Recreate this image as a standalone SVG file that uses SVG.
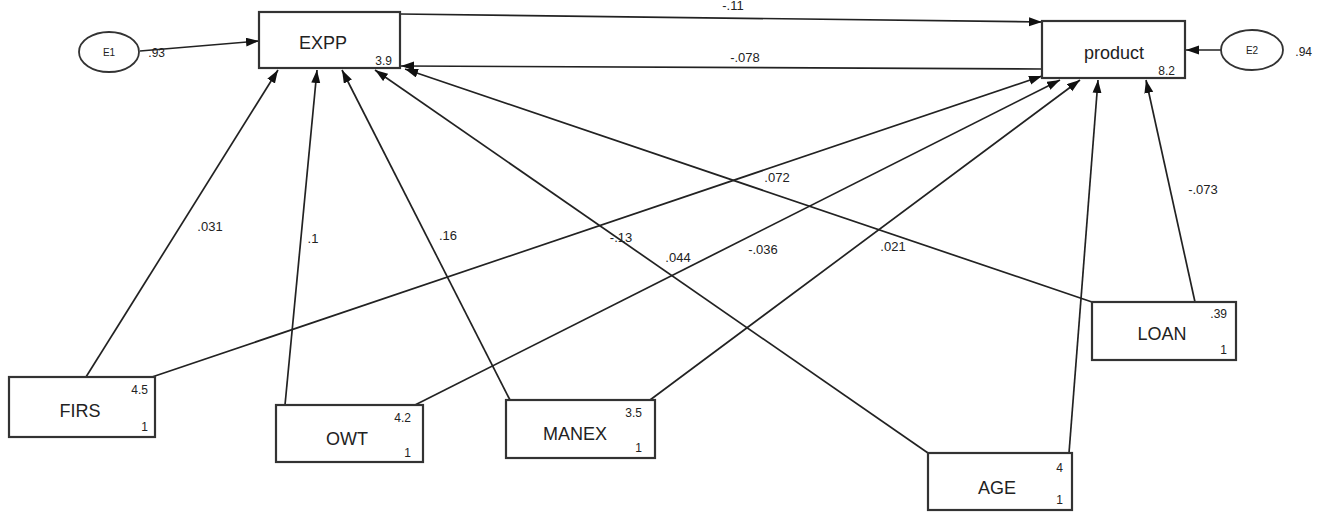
<svg xmlns="http://www.w3.org/2000/svg" width="1333" height="512" viewBox="0 0 1333 512">
<style>
.box{fill:#fff;stroke:#333;stroke-width:2.2}
.ell{fill:#fff;stroke:#333;stroke-width:1.8}
.name{font-family:"Liberation Sans",Arial,sans-serif;font-size:18px;fill:#222;text-anchor:middle}
.num{font-family:"Liberation Sans",Arial,sans-serif;font-size:12px;fill:#222;text-anchor:end}
.lab{font-family:"Liberation Sans",Arial,sans-serif;font-size:13px;fill:#222;text-anchor:middle}
.err{font-family:"Liberation Sans",Arial,sans-serif;font-size:10px;fill:#222;text-anchor:middle}
.c line{stroke:#222;stroke-width:1.7;marker-end:url(#ah)}
</style>
<defs>
<marker id="ah" markerUnits="userSpaceOnUse" markerWidth="14" markerHeight="10" refX="13" refY="4.5" orient="auto">
<path d="M0,0 L13,4.5 L0,9 z" fill="#111"/>
</marker>
</defs>
<rect width="1333" height="512" fill="#fff"/>
<g class="c" id="connectors">
<line x1="140" y1="51" x2="259" y2="41"/>
<line x1="400" y1="14" x2="1042" y2="22"/>
<line x1="1042" y1="69" x2="401" y2="66"/>
<line x1="1221" y1="50" x2="1186" y2="50"/>
<line x1="86" y1="377" x2="278" y2="70"/>
<line x1="285" y1="405" x2="317" y2="70"/>
<line x1="510" y1="400" x2="342" y2="70"/>
<line x1="928" y1="453" x2="375" y2="70"/>
<line x1="1092" y1="302" x2="405" y2="69"/>
<line x1="152" y1="377" x2="1042" y2="76"/>
<line x1="415" y1="405" x2="1060" y2="80"/>
<line x1="650" y1="400" x2="1080" y2="80"/>
<line x1="1069" y1="453" x2="1098" y2="80"/>
<line x1="1195" y1="302" x2="1146" y2="80"/>
<text class="lab" x="733" y="10">-.11</text>
<text class="lab" x="745" y="62">-.078</text>
<text class="lab" x="210" y="231">.031</text>
<text class="lab" x="313" y="243">.1</text>
<text class="lab" x="448" y="240">.16</text>
<text class="lab" x="621" y="242">-.13</text>
<text class="lab" x="777" y="182">.072</text>
<text class="lab" x="678" y="262">.044</text>
<text class="lab" x="763" y="254">-.036</text>
<text class="lab" x="893" y="251">.021</text>
<text class="lab" x="1103" y="327">-.1</text>
<text class="lab" x="1203" y="194">-.073</text>
</g>
<g id="E1">
<ellipse class="ell" cx="109" cy="52" rx="30" ry="20"/>
<text class="err" x="109" y="56">E1</text>
<text class="num" x="165" y="57">.93</text>
</g>
<g id="E2">
<ellipse class="ell" cx="1252" cy="50" rx="31" ry="20"/>
<text class="err" x="1252" y="54">E2</text>
<text class="num" x="1312" y="56">.94</text>
</g>
<g id="EXPP">
<rect class="box" x="259" y="12" width="141" height="56"/>
<text class="name" x="323" y="49">EXPP</text>
<text class="num" x="392" y="65">3.9</text>
</g>
<g id="product">
<rect class="box" x="1042" y="21" width="143" height="57"/>
<text class="name" x="1114" y="59">product</text>
<text class="num" x="1175" y="75">8.2</text>
</g>
<g id="FIRS">
<rect class="box" x="9" y="377" width="146" height="60"/>
<text class="name" x="80" y="417">FIRS</text>
<text class="num" x="148" y="394">4.5</text>
<text class="num" x="148" y="431">1</text>
</g>
<g id="OWT">
<rect class="box" x="276" y="405" width="147" height="57"/>
<text class="name" x="347" y="445">OWT</text>
<text class="num" x="411" y="422">4.2</text>
<text class="num" x="411" y="457">1</text>
</g>
<g id="MANEX">
<rect class="box" x="506" y="400" width="149" height="58"/>
<text class="name" x="575" y="440">MANEX</text>
<text class="num" x="642" y="417">3.5</text>
<text class="num" x="642" y="452">1</text>
</g>
<g id="AGE">
<rect class="box" x="928" y="453" width="144" height="57"/>
<text class="name" x="997" y="494">AGE</text>
<text class="num" x="1063" y="472">4</text>
<text class="num" x="1063" y="504">1</text>
</g>
<g id="LOAN">
<rect class="box" x="1092" y="302" width="144" height="58"/>
<text class="name" x="1162" y="340">LOAN</text>
<text class="num" x="1227" y="318">.39</text>
<text class="num" x="1227" y="354">1</text>
</g>
</svg>
